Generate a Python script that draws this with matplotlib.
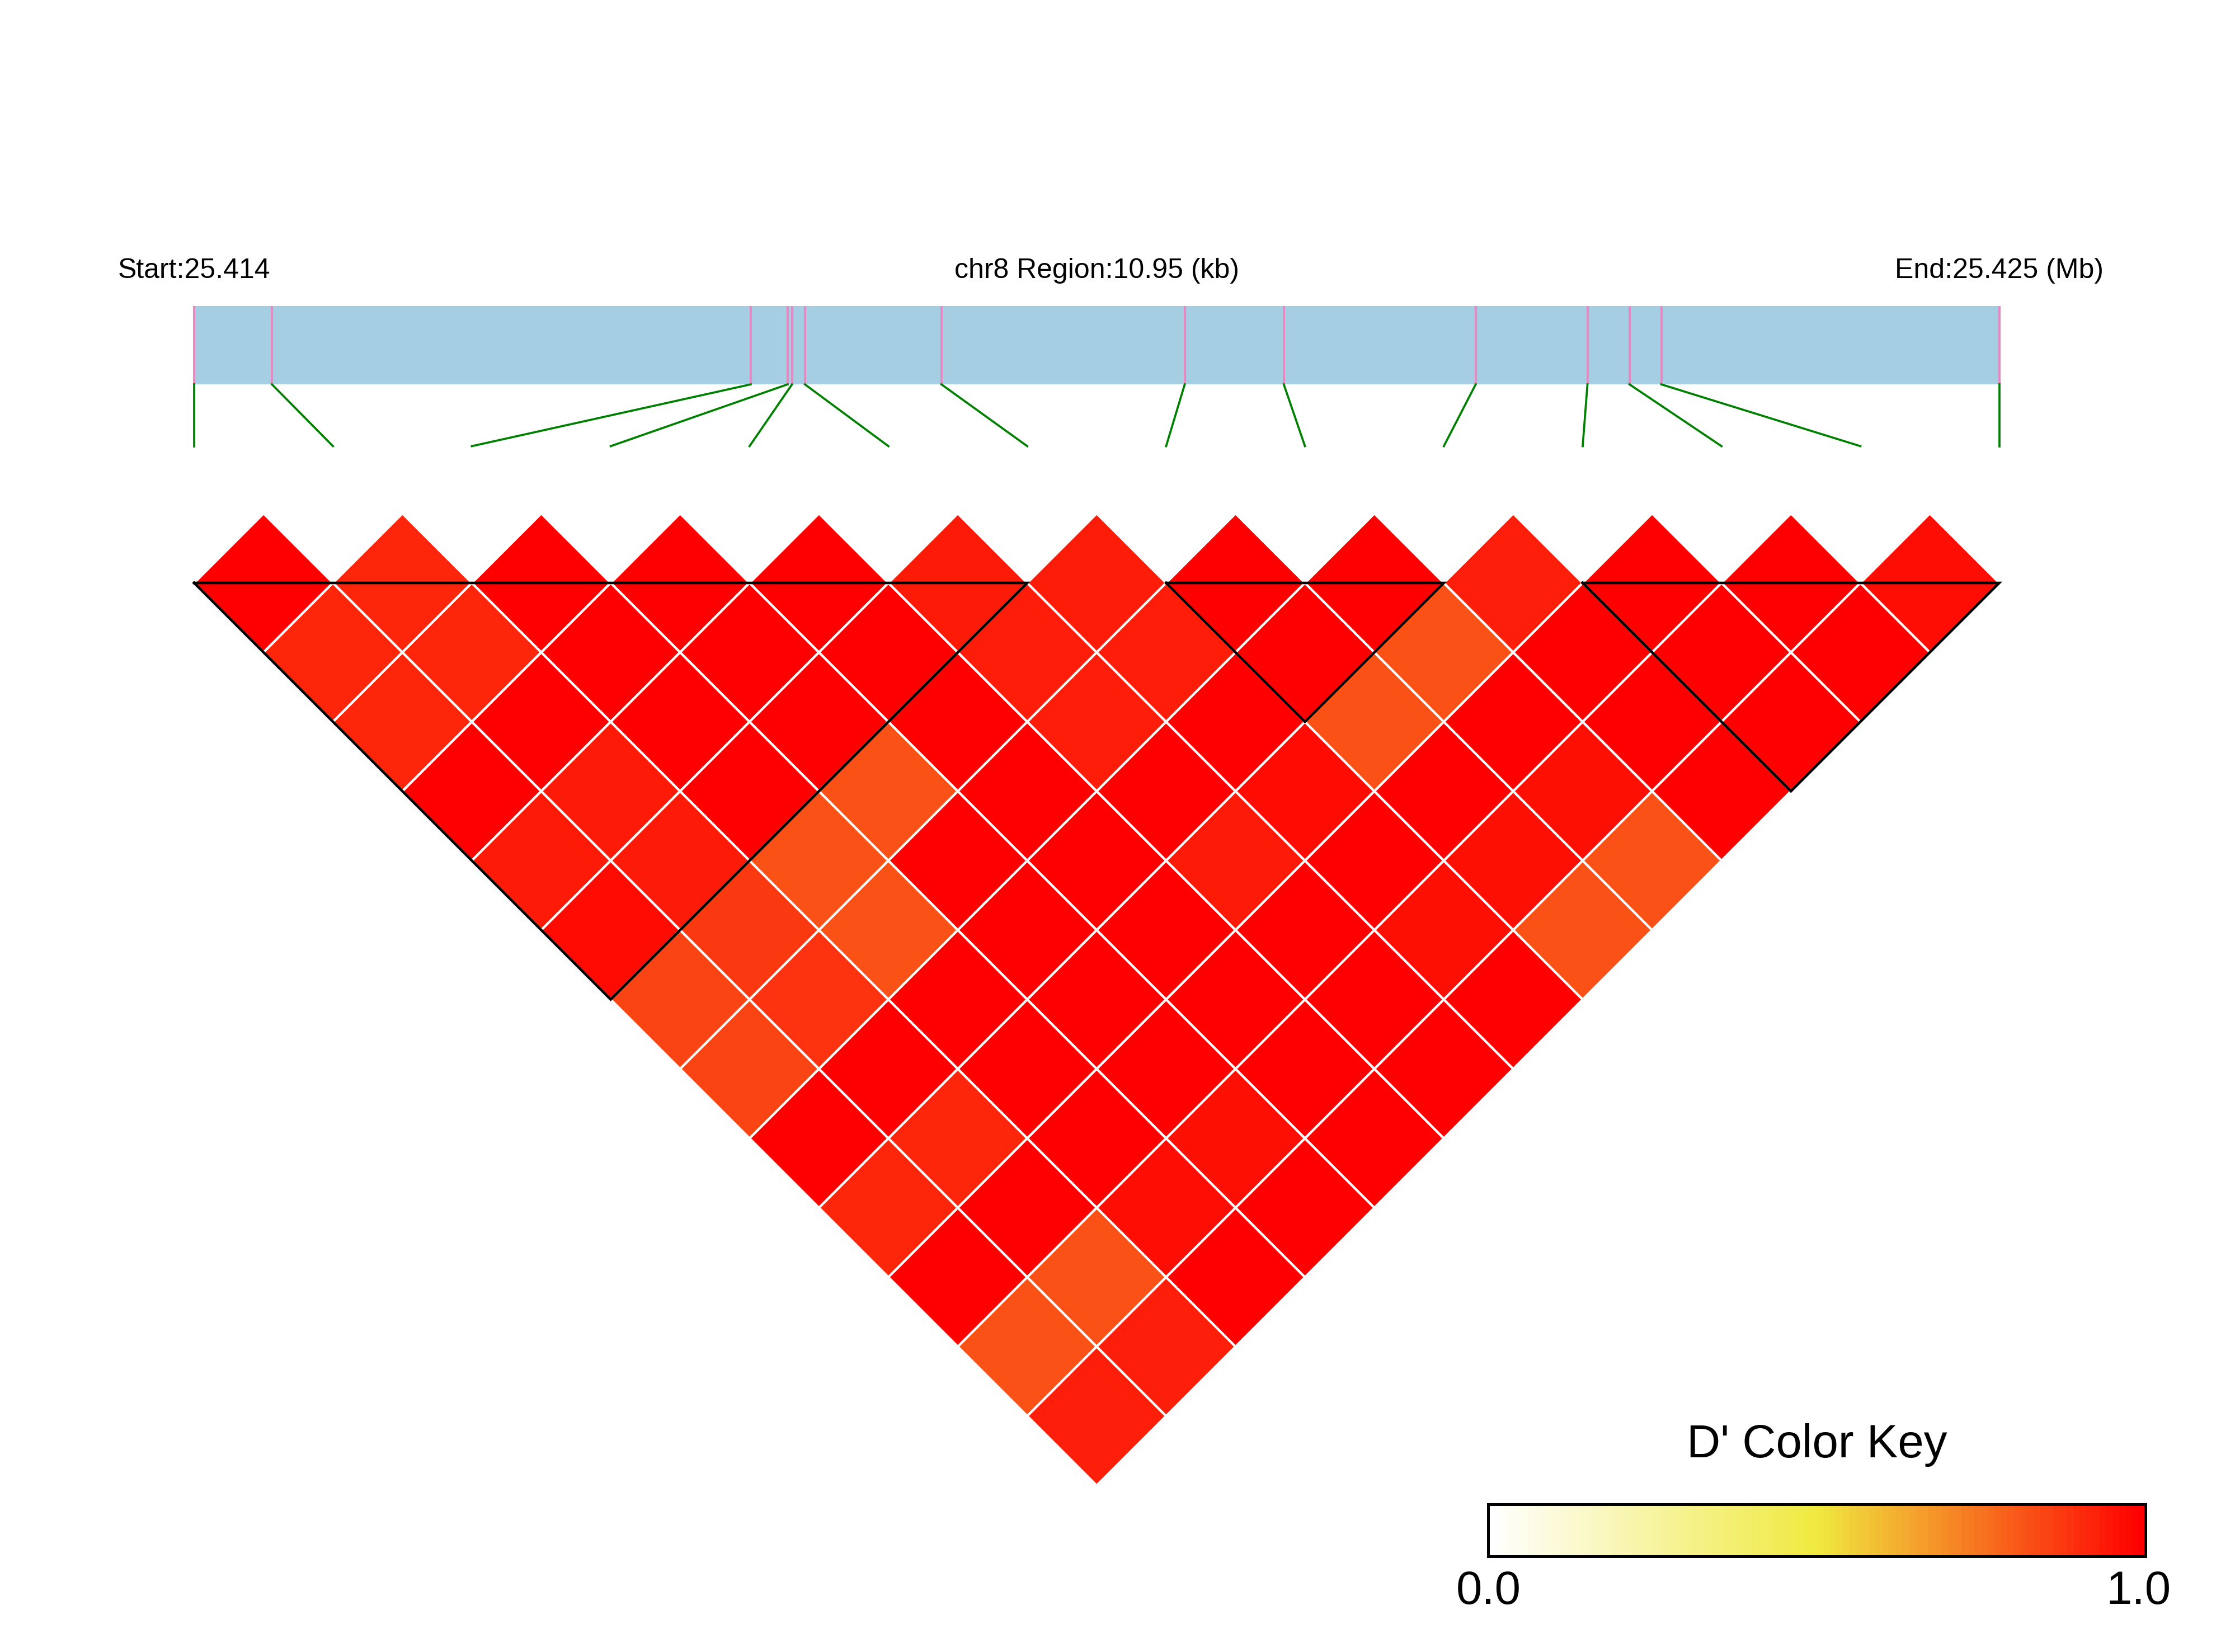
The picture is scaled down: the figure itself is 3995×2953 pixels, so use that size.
import numpy as np
import matplotlib
matplotlib.use('Agg')
import matplotlib.pyplot as plt
from matplotlib.colors import LinearSegmentedColormap
from matplotlib.collections import PolyCollection
from matplotlib.patches import Rectangle

plt.rcParams['font.family'] = ['Liberation Sans', 'DejaVu Sans']

chrom = 'chr8'
region_start = 25414046
region_end = 25424996

# SNP positions (bp)
snp_pos = [25414046, 25414518, 25417422, 25417646, 25417673, 25417751, 25418579,
           25420055, 25420656, 25421820, 25422498, 25422753, 25422946, 25424996]

# D' upper triangle, row i holds pairs (i, i+1..n-1)
dprime = [
    [1.0, 0.92, 0.92, 1.0, 0.945, 0.975, 0.855, 0.855, 1.0, 0.92, 1.0, 0.825, 0.93],
    [0.92, 0.92, 1.0, 0.945, 0.945, 0.875, 0.89, 1.0, 0.92, 1.0, 0.825, 0.93],
    [1.0, 1.0, 1.0, 1.0, 0.825, 0.825, 1.0, 1.0, 1.0, 0.97, 1.0],
    [1.0, 1.0, 1.0, 0.825, 1.0, 1.0, 1.0, 1.0, 0.965, 1.0],
    [1.0, 1.0, 1.0, 1.0, 1.0, 1.0, 1.0, 1.0, 1.0],
    [0.945, 0.935, 0.935, 1.0, 0.945, 1.0, 1.0, 1.0],
    [0.94, 0.935, 1.0, 0.975, 1.0, 0.965, 1.0],
    [1.0, 1.0, 0.825, 1.0, 0.965, 0.825],
    [1.0, 0.825, 1.0, 0.965, 0.825],
    [0.93, 1.0, 1.0, 1.0],
    [1.0, 1.0, 1.0],
    [1.0, 1.0],
    [0.97],
]

# haplotype blocks (first SNP, last SNP)
blocks = [(0, 6), (7, 9), (10, 13)]

n = len(snp_pos)
cmap = LinearSegmentedColormap.from_list('ld', [(0, '#FFFFFF'), (0.5, '#F0EA40'), (1, '#FF0000')])

unit = 248.2
fig = plt.figure(figsize=(3995 / 300, 2953 / 300), dpi=300)
ax = fig.add_axes([0, 0, 1, 1])
ax.axis('off')

# LD diamonds
polys = []
vals = []
for i in range(n - 1):
    for k, v in enumerate(dprime[i]):
        j = i + 1 + k
        cx = (i + j) / 2
        cy = -(j - i - 1) / 2
        polys.append([(cx, cy + 0.5), (cx + 0.5, cy), (cx, cy - 0.5), (cx - 0.5, cy)])
        vals.append(v)
pc = PolyCollection(polys, facecolors=cmap(np.array(vals)), edgecolors='white', linewidths=1.0)
ax.add_collection(pc)

# block outlines
for a, b in blocks:
    ax.plot([a, (a + b) / 2, b, a], [0, -(b - a) / 2, 0, 0], color='black', lw=1.1,
            solid_joinstyle='miter')

# region bar
bar_lo, bar_hi = 1.430, 1.994
ax.add_patch(Rectangle((0, bar_lo), n - 1, bar_hi - bar_lo, facecolor='#A6CEE3', edgecolor='none'))
gx = (np.array(snp_pos) - region_start) / (region_end - region_start) * (n - 1)
ax.vlines(gx, bar_lo, bar_hi, color='#E78AC3', lw=1.0)
for i in range(n):
    ax.plot([gx[i], i], [bar_lo, 0.985], color='green', lw=0.9)

ty = 2.196
ax.text(0, ty, 'Start:%.3f' % (region_start / 1e6), ha='center', va='baseline', fontsize=12)
ax.text((n - 1) / 2, ty, '%s Region:%.2f (kb)' % (chrom, (region_end - region_start) / 1000),
        ha='center', va='baseline', fontsize=12)
ax.text(n - 1, ty, 'End:%.3f (Mb)' % (region_end / 1e6), ha='center', va='baseline', fontsize=12)

# colour key
kx0, kx1 = 9.321, 14.055
ky0, ky1 = -7.011, -6.636
grad = np.linspace(0, 1, 100).reshape(1, -1)
ax.imshow(grad, cmap=cmap, extent=[kx0, kx1, ky0, ky1], aspect='auto', interpolation='nearest')
ax.add_patch(Rectangle((kx0, ky0), kx1 - kx0, ky1 - ky0, facecolor='none', edgecolor='black', lw=1.2))
ax.text((kx0 + kx1) / 2, -6.297, "D' Color Key", ha='center', va='baseline', fontsize=20)
ax.text(kx0, -7.353, '0.0', ha='center', va='baseline', fontsize=20)
ax.text(kx1 - 0.05, -7.353, '1.0', ha='center', va='baseline', fontsize=20)

ax.set_xlim(-347 / unit, (3995 - 347) / unit)
ax.set_ylim(-(2953 - 1042) / unit, 1042 / unit)

fig.savefig('out.png', dpi=300)
